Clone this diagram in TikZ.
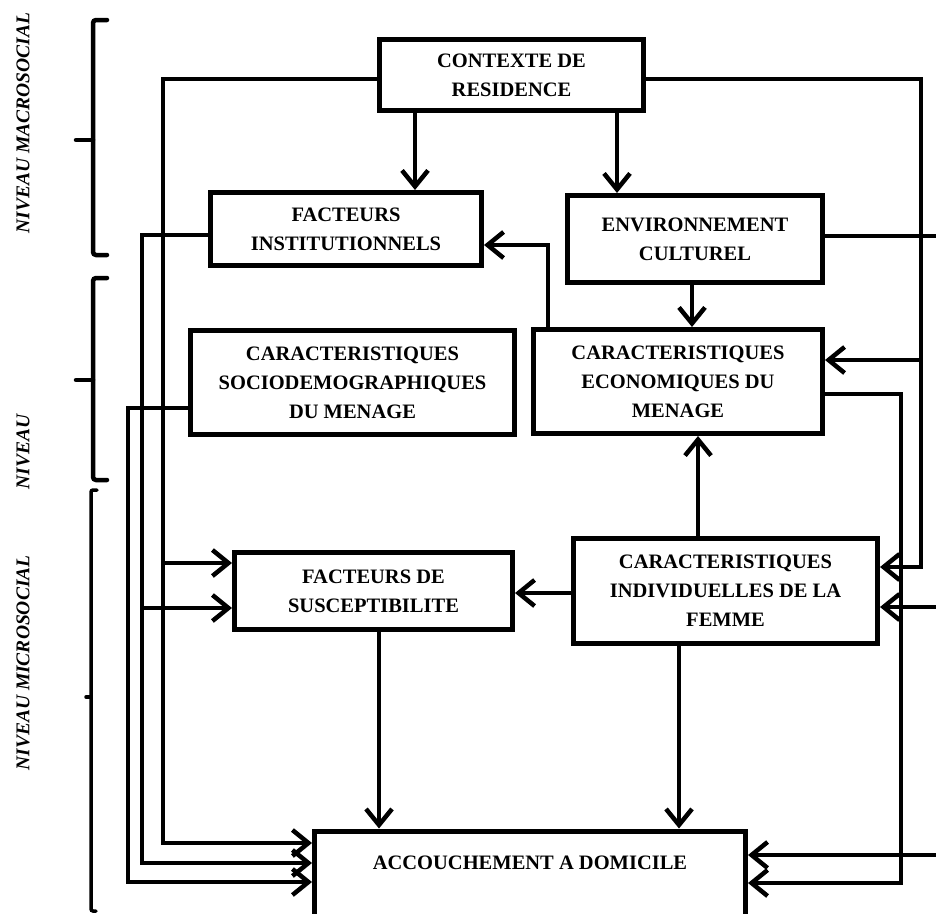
\documentclass[tikz,border=0pt]{standalone}
\usepackage{fontspec}
\setmainfont{Liberation Serif}
\usetikzlibrary{arrows.meta}
\tikzset{
  box/.style={draw, line width=5pt, inner sep=0pt, align=center,
    font=\bfseries\fontsize{20.5}{29}\selectfont},
  ln/.style={line width=4.5pt},
  arr/.style={line width=4.5pt, -{Straight Barb[length=16pt,width=26pt]}},
  lab/.style={rotate=90, inner sep=0pt, font=\bfseries\itshape\fontsize{19.5}{22}\selectfont},
  brace/.style={line width=4.5pt, line cap=round, rounded corners=3pt},
  thinbrace/.style={line width=3.5pt, line cap=round, rounded corners=2pt},
}
\begin{document}
\begin{tikzpicture}[x=1pt,y=-1pt]
\useasboundingbox (0,0) rectangle (936,913);

% boxes
\node[box, minimum width=264pt, minimum height=71pt] (ctx) at (511.5,75) {CONTEXTE DE\\RESIDENCE};
\node[box, minimum width=271pt, minimum height=73pt] (inst) at (346,229) {FACTEURS\\INSTITUTIONNELS};
\node[box, minimum width=255pt, minimum height=87pt] (env) at (695,239) {ENVIRONNEMENT\\CULTUREL};
\node[box, minimum width=324pt, minimum height=104pt] (socio) at (352.5,382.5) {CARACTERISTIQUES\\SOCIODEMOGRAPHIQUES\\DU MENAGE};
\node[box, minimum width=289pt, minimum height=104pt] (eco) at (678,381.5) {CARACTERISTIQUES\\ECONOMIQUES DU\\MENAGE};
\node[box, minimum width=278pt, minimum height=77pt] (susc) at (373.5,591) {FACTEURS DE\\SUSCEPTIBILITE};
\node[box, minimum width=304pt, minimum height=105pt] (indiv) at (725.5,591) {CARACTERISTIQUES\\INDIVIDUELLES DE LA\\FEMME};
\node[box, minimum width=431pt, minimum height=102pt, text height=14pt, text depth=40pt] (acc) at (530,882) {ACCOUCHEMENT A DOMICILE};

% helper coordinates
\coordinate (xL1) at (163,0);
\coordinate (xL2) at (142,0);
\coordinate (xL3) at (128,0);
\coordinate (xR1) at (921,0);
\coordinate (xR2) at (901,0);
\coordinate (xR3) at (960,0);
\coordinate (x415) at (415,0);
\coordinate (x617) at (617,0);
\coordinate (x692) at (692,0);
\coordinate (x548) at (548,0);
\coordinate (x698) at (698,0);
\coordinate (x379) at (379,0);
\coordinate (x679) at (679,0);
\coordinate (y79) at (0,79);
\coordinate (y235) at (0,235);
\coordinate (y236) at (0,236);
\coordinate (y245) at (0,245);
\coordinate (y360) at (0,360);
\coordinate (y394) at (0,394);
\coordinate (y408) at (0,408);
\coordinate (y563) at (0,563);
\coordinate (y567) at (0,567);
\coordinate (y593) at (0,593);
\coordinate (y607) at (0,607);
\coordinate (y608) at (0,608);
\coordinate (y843) at (0,843);
\coordinate (y855) at (0,855);
\coordinate (y863) at (0,863);
\coordinate (y882) at (0,882);
\coordinate (y883) at (0,883);

% vertical arrows in the middle
\draw[arr] (x415 |- ctx.south) -- (x415 |- inst.north);
\draw[arr] (x617 |- ctx.south) -- (x617 |- env.north);
\draw[arr] (x692 |- env.south) -- (x692 |- eco.north);
\draw[arr] (x548 |- eco.north) |- (inst.east |- y245);
\draw[arr] (x698 |- indiv.north) -- (x698 |- eco.south);
\draw[arr] (indiv.west |- y593) -- (susc.east |- y593);
\draw[arr] (x379 |- susc.south) -- (x379 |- acc.north);
\draw[arr] (x679 |- indiv.south) -- (x679 |- acc.north);

% left side
\draw[arr] (ctx.west |- y79) -| (xL1 |- y843) -- (acc.west |- y843);
\draw[arr] (xL1 |- y563) -- (susc.west |- y563);
\draw[arr] (inst.west |- y235) -| (xL2 |- y863) -- (acc.west |- y863);
\draw[arr] (xL2 |- y608) -- (susc.west |- y608);
\draw[arr] (socio.west |- y408) -| (xL3 |- y882) -- (acc.west |- y882);

% right side
\draw[arr] (ctx.east |- y79) -| (xR1 |- y567) -- (indiv.east |- y567);
\draw[arr] (xR1 |- y360) -- (eco.east |- y360);
\draw[ln] (env.east |- y236) -- (xR3 |- y236) -- (xR3 |- y855);
\draw[arr] (xR3 |- y607) -- (indiv.east |- y607);
\draw[arr] (xR3 |- y855) -- (acc.east |- y855);
\draw[arr] (eco.east |- y394) -| (xR2 |- y883) -- (acc.east |- y883);

% braces
\draw[brace] (107,20) -- (93,20) -- (93,255) -- (107,255);
\draw[brace] (93,140) -- (76,140);
\draw[brace] (107,278) -- (93,278) -- (93,480) -- (107,480);
\draw[brace] (93,380) -- (76,380);
\draw[thinbrace] (97,490) -- (91,490) -- (91,911) -- (96,911);
\draw[thinbrace] (91,697) -- (86,697);

% level labels
\node[lab] (lmacro) at (23,123) {NIVEAU MACROSOCIAL};
\node[lab] (lniv) at (23,452) {NIVEAU};
\node[lab] (lmicro) at (23,663) {NIVEAU MICROSOCIAL};
\end{tikzpicture}
\end{document}
